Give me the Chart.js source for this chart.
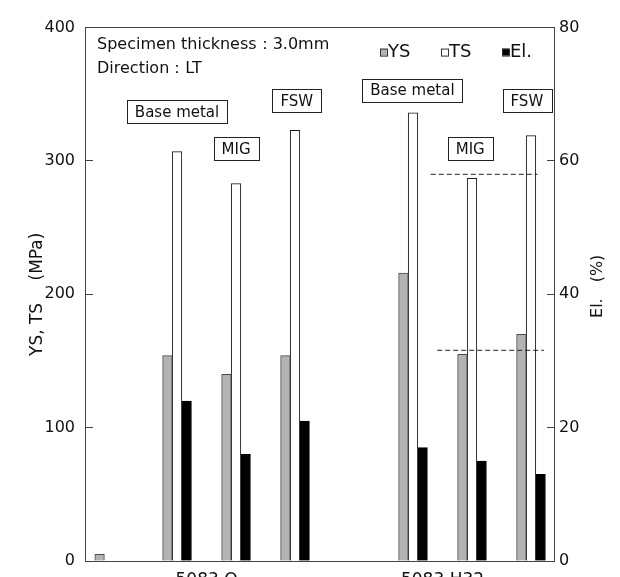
<!DOCTYPE html>
<html>
<head>
<meta charset="utf-8">
<script src="https://cdn.jsdelivr.net/npm/chart.js@4"></script>
<style>
  html, body { margin: 0; padding: 0; background: #fff; overflow: hidden; }
  #wrap { width: 620px; height: 600px; position: relative; }
</style>
</head>
<body>
<div id="wrap"><canvas id="c"></canvas></div>
<script>
// ---- data ----
const groups    = ['', '5083 O Base metal', '5083 O MIG', '5083 O FSW', '5083 H32 Base metal', '5083 H32 MIG', '5083 H32 FSW'];
const groupPos  = [-0.15, 1, 2, 3, 5, 6, 7];
const ysValues  = [5, 154, 140, 154, 216, 155, 170];      // MPa
const tsValues  = [null, 307, 283, 323, 336, 287, 319];   // MPa
const elValues  = [null, 24, 16, 21, 17, 15, 13];         // %
const alloyLabels = ['5083 O', '5083 H32'];
const alloyPos    = [1.5, 5.5];
const refTS = 290;   // dashed reference (MPa)
const refYS = 158;   // dashed reference (MPa)
const leftTicks  = [0, 100, 200, 300, 400];
const rightTicks = [0, 20, 40, 60, 80];

const FONT = 'DejaVu Sans';
Chart.defaults.font.family = FONT;
Chart.defaults.font.size = 16;
Chart.defaults.color = '#111';

const toXY = (vals) => vals.map((v, i) => ({ x: groupPos[i], y: v }));

const annotations = [
  { text: 'Base metal', x: 1.0,  y: 337 },
  { text: 'MIG',        x: 2.0,  y: 309 },
  { text: 'FSW',        x: 3.03, y: 345 },
  { text: 'Base metal', x: 4.99, y: 353 },
  { text: 'MIG',        x: 5.97, y: 309 },
  { text: 'FSW',        x: 6.93, y: 345 }
];

const overlayPlugin = {
  id: 'overlay',
  afterDraw(chart) {
    const { ctx, chartArea, scales } = chart;
    ctx.save();
    // note text
    ctx.fillStyle = '#111';
    ctx.font = '16px "' + FONT + '"';
    ctx.textBaseline = 'middle';
    ctx.textAlign = 'left';
    ctx.fillText('Specimen thickness：3.0mm', chartArea.left + 12, chartArea.top + 17);
    ctx.fillText('Direction：LT', chartArea.left + 12, chartArea.top + 41);

    // legend
    ctx.font = '18px "' + FONT + '"';
    let lx = chartArea.left + 295;
    const ly = chartArea.top + 25;
    chart.data.datasets.filter(d => d.type === 'bar').forEach(d => {
      ctx.fillStyle = d.backgroundColor;
      ctx.fillRect(lx, ly - 4, 7, 7);
      ctx.strokeStyle = '#333';
      ctx.lineWidth = 1;
      ctx.strokeRect(lx + 0.5, ly - 4 + 0.5, 7, 7);
      ctx.fillStyle = '#111';
      ctx.fillText(d.label, lx + 8, ly);
      lx += 61;
    });

    // boxed labels
    ctx.font = '15px "' + FONT + '"';
    ctx.textAlign = 'center';
    annotations.forEach(a => {
      const px = scales.x.getPixelForValue(a.x);
      const py = scales.y.getPixelForValue(a.y);
      const w = ctx.measureText(a.text).width + 16;
      const h = 23;
      ctx.fillStyle = '#fff';
      ctx.fillRect(Math.round(px - w / 2), Math.round(py - h / 2), Math.round(w), h);
      ctx.strokeStyle = '#222';
      ctx.lineWidth = 1;
      ctx.strokeRect(Math.round(px - w / 2) + 0.5, Math.round(py - h / 2) + 0.5, Math.round(w), h);
      ctx.fillStyle = '#111';
      ctx.fillText(a.text, px, py + 1);
    });

    // right axis title (reads bottom to top)
    ctx.font = '16px "' + FONT + '"';
    ctx.translate(598, (chartArea.top + chartArea.bottom) / 2 - 8);
    ctx.rotate(-Math.PI / 2);
    ctx.textAlign = 'center';
    ctx.fillText('El.　(%)', 0, 0);
    ctx.restore();
  }
};

new Chart(document.getElementById('c'), {
  data: {
    datasets: [
      { type: 'line', label: 'ref TS', data: [{ x: 5.3, y: refTS }, { x: 7.11, y: refTS }],
        borderColor: '#222', borderWidth: 1, borderDash: [5, 3], pointRadius: 0, yAxisID: 'y', order: -1 },
      { type: 'line', label: 'ref YS', data: [{ x: 5.41, y: refYS }, { x: 7.22, y: refYS }],
        borderColor: '#222', borderWidth: 1, borderDash: [5, 3], pointRadius: 0, yAxisID: 'y', order: -1 },
      { type: 'bar', label: 'YS', data: toXY(ysValues), backgroundColor: '#b3b3b3', borderColor: '#4a4a4a', borderWidth: 1, yAxisID: 'y' },
      { type: 'bar', label: 'TS', data: toXY(tsValues), backgroundColor: '#ffffff', borderColor: '#1a1a1a', borderWidth: 1, yAxisID: 'y' },
      { type: 'bar', label: 'El.', data: toXY(elValues), backgroundColor: '#000000', borderColor: '#000000', borderWidth: 1, yAxisID: 'y2' }
    ]
  },
  options: {
    responsive: true,
    maintainAspectRatio: false,
    animation: false,
    devicePixelRatio: 1,
    layout: { padding: { left: 0, right: 0, top: 21, bottom: 0 } },
    datasets: { bar: { barThickness: 9.6, grouped: true } },
    plugins: { legend: { display: false }, tooltip: { enabled: false } },
    scales: {
      x: {
        type: 'linear', position: 'bottom', min: -0.56, max: 7.39, offset: false,
        grid: { display: false, drawTicks: false, offset: false },
        border: { display: true, color: '#444', width: 1 },
        afterBuildTicks: (s) => { s.ticks = alloyPos.map(v => ({ value: v })); },
        ticks: { autoSkip: false, maxRotation: 0, padding: 9, font: { size: 17 }, color: '#111',
                 callback: (v, i) => alloyLabels[i] },
        afterFit: (s) => { s.height = 39; }
      },
      xTop: {
        type: 'linear', position: 'top', min: -0.56, max: 7.39, offset: false,
        grid: { display: false, drawTicks: false, offset: false },
        border: { display: true, color: '#444', width: 1 },
        ticks: { display: false },
        afterFit: (s) => { s.height = 0; }
      },
      y: {
        type: 'linear', position: 'left', min: 0, max: 400,
        afterBuildTicks: (s) => { s.ticks = leftTicks.map(v => ({ value: v })); },
        grid: { drawOnChartArea: false, drawTicks: true, tickLength: -8, color: '#444' },
        border: { display: true, color: '#444', width: 1 },
        ticks: { padding: 18, color: '#111', font: { size: 16 } },
        title: { display: true, text: 'YS, TS　 (MPa)', font: { size: 17 }, color: '#111', padding: { top: 27, bottom: 0 } },
        afterFit: (s) => { s.width = 85; }
      },
      y2: {
        type: 'linear', position: 'right', min: 0, max: 80,
        afterBuildTicks: (s) => { s.ticks = rightTicks.map(v => ({ value: v })); },
        grid: { drawOnChartArea: false, drawTicks: true, tickLength: -7, color: '#444' },
        border: { display: true, color: '#444', width: 1 },
        ticks: { padding: 12, color: '#111', font: { size: 16 } },
        afterFit: (s) => { s.width = 66; }
      }
    }
  },
  plugins: [overlayPlugin]
});
</script>
</body>
</html>
